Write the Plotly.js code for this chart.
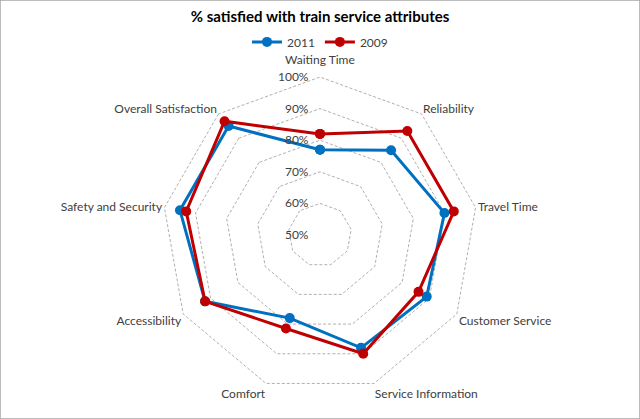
<!DOCTYPE html>
<html>
<head>
<meta charset="utf-8">
<script src="https://cdn.plot.ly/plotly-3.0.1.min.js"></script>
<style>
  html, body { margin: 0; padding: 0; background: #fff; }
  #chart { width: 640px; height: 419px; }
</style>
</head>
<body>
<div id="chart"></div>
<script>
// categories, clockwise from the top
var attributes = [
    'Waiting Time',
    'Reliability',
    'Travel Time',
    'Customer Service',
    'Service Information',
    'Comfort',
    'Accessibility',
    'Safety and Security',
    'Overall Satisfaction'
];

// % satisfied
var values2011 = [77, 85, 90, 89, 88, 78, 92, 95, 95];
var values2009 = [82, 93, 93, 86, 90, 81.5, 92, 93, 97];

var radialTicks = [50, 60, 70, 80, 90, 100];
var radialTickLabels = ['50%', '60%', '70%', '80%', '90%', '100%'];

// close the loop so the last point joins the first
function closeLoop(list)
{
    return list.concat([list[0]]);
}

// the top label sits above the 100% tick label in the original,
// so it is drawn as an annotation instead of an angular tick label
var attributeLabels = attributes.map(function(name, i) {
    return i === 0 ? '' : name;
});

// push the % labels a bit away from the axis
var paddedTickLabels = radialTickLabels.map(function(label) {
    return label + '\u00a0\u00a0\u00a0';
});

var plotlyData = [
    {
        type: 'scatterpolar',
        r: closeLoop(values2011),
        theta: closeLoop(attributes),
        name: '2011',
        mode: 'lines+markers',
        line: { color: '#0070C0', width: 3 },
        marker: { color: '#0070C0', size: 10 },
        cliponaxis: false
    },
    {
        type: 'scatterpolar',
        r: closeLoop(values2009),
        theta: closeLoop(attributes),
        name: '2009',
        mode: 'lines+markers',
        line: { color: '#C00000', width: 3 },
        marker: { color: '#C00000', size: 10 },
        cliponaxis: false
    }
];

var plotlyLayout = {
    width: 640,
    height: 419,
    margin: { l: 0, r: 0, t: 0, b: 0 },
    paper_bgcolor: '#ffffff',
    font: { family: 'Lato, "Open Sans", sans-serif', size: 12, color: '#404040' },
    title: {
        text: '<b>% satisfied with train service attributes</b>',
        font: { family: 'Lato, "Open Sans", sans-serif', size: 15, color: '#000000' },
        x: 0.5,
        xanchor: 'center',
        y: 0.96,
        yanchor: 'middle'
    },
    showlegend: true,
    legend: {
        orientation: 'h',
        x: 0.5,
        xanchor: 'center',
        y: 0.9,
        yanchor: 'middle',
        font: { size: 12, color: '#404040' },
        itemwidth: 30,
        tracegroupgap: 0
    },
    annotations: [
        {
            text: attributes[0],
            xref: 'paper', yref: 'paper',
            x: 0.5, y: 0.857,
            xanchor: 'center', yanchor: 'middle',
            showarrow: false,
            font: { size: 12, color: '#404040' }
        }
    ],
    polar: {
        domain: { x: [0.2502, 0.7498], y: [0.0575, 0.8208] },
        gridshape: 'linear',
        bgcolor: 'rgba(0,0,0,0)',
        radialaxis: {
            range: [50, 100.6],
            tickvals: radialTicks,
            ticktext: paddedTickLabels,
            angle: 90,
            tickangle: 90,
            side: 'counterclockwise',
            showline: false,
            ticks: '',
            showgrid: true,
            gridcolor: '#b0b0b0',
            griddash: '3px,2px',
            gridwidth: 1,
            tickfont: { size: 12, color: '#404040' }
        },
        angularaxis: {
            direction: 'clockwise',
            rotation: 90,
            showgrid: false,
            showline: false,
            ticks: '',
            tickmode: 'array',
            tickvals: attributes,
            ticktext: attributeLabels,
            tickfont: { size: 12, color: '#404040' }
        }
    },
    shapes: [
        {
            type: 'rect',
            xref: 'paper', yref: 'paper',
            x0: 0, x1: 1, y0: 0, y1: 1,
            line: { color: '#a6a6a6', width: 1.5 }
        }
    ]
};

var plotlyConfig = {
    displayModeBar: false,
    staticPlot: true
};

Plotly.newPlot('chart', plotlyData, plotlyLayout, plotlyConfig);
</script>
</body>
</html>
